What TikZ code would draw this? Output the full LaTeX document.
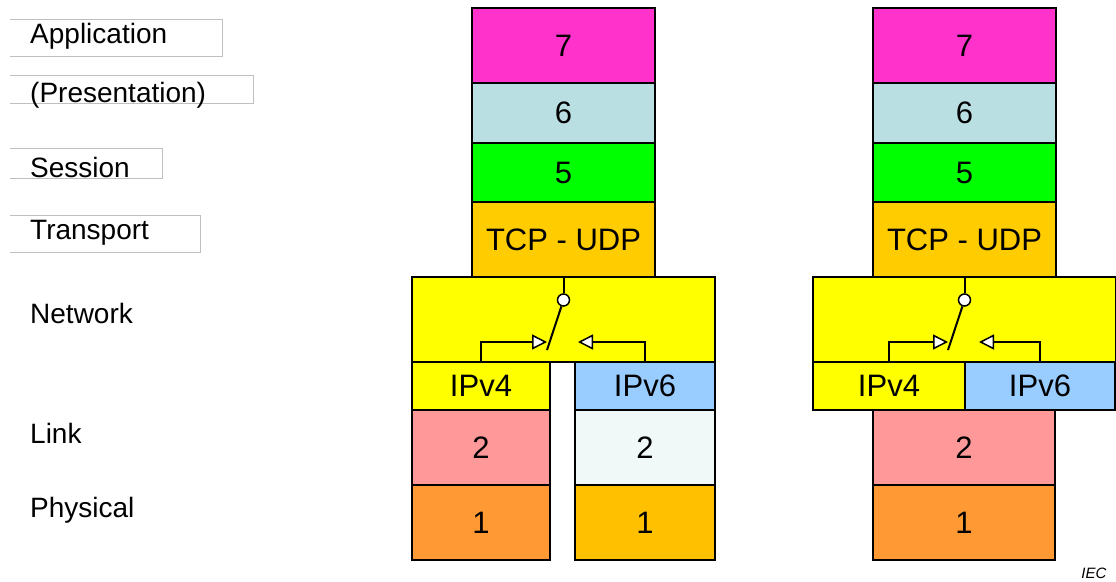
\documentclass[tikz,border=0pt]{standalone}
\usepackage{fontspec}
\setmainfont{Liberation Sans}
\usetikzlibrary{arrows.meta}

\definecolor{appl}{HTML}{FF33CC}
\definecolor{pres}{HTML}{BADFE3}
\definecolor{sess}{HTML}{00FF00}
\definecolor{trsp}{HTML}{FFCC00}
\definecolor{netw}{HTML}{FFFF00}
\definecolor{vsix}{HTML}{99CCFF}
\definecolor{linka}{HTML}{FF9999}
\definecolor{linkb}{HTML}{F0F8F8}
\definecolor{phya}{HTML}{FF9933}
\definecolor{phyb}{HTML}{FFC000}

\tikzset{
  layer/.style={draw, line width=2pt, inner sep=0pt, outer sep=0pt, anchor=north west,
    font=\fontsize{31}{33}\selectfont},
  lname/.style={anchor=base west, inner sep=0pt, font=\fontsize{28}{30}\selectfont},
  lframe/.style={draw=black!25, line width=1pt},
  wire/.style={line width=2pt},
  pivot/.style={circle, draw, fill=white, line width=1.5pt, minimum size=12pt, inner sep=0pt},
  feed/.style={wire, -{Triangle[fill=white, length=15pt, width=15pt, line width=1.5pt]}}
}

\begin{document}
\begin{tikzpicture}[x=1pt,y=-1pt]
\useasboundingbox (0,0) rectangle (1116,581);

% layer names
\draw[lframe] (10,19) -| (222,56) -- (10,56);
\draw[lframe] (10,75) -| (253,103) -- (10,103);
\draw[lframe] (10,148) -| (162,178) -- (10,178);
\draw[lframe] (10,215) -| (200,252) -- (10,252);
\node[lname] (napp) at (30,43) {Application};
\node[lname] (npres) at (30,102) {(Presentation)};
\node[lname] (nsess) at (30,177) {Session};
\node[lname] (ntrsp) at (30,239) {Transport};
\node[lname] (nnetw) at (30,323) {Network};
\node[lname] (nlink) at (30,443) {Link};
\node[lname] (nphys) at (30,517) {Physical};

% upper layers and the network box, same for both stacks
\foreach \dx/\s in {0/a,401/b} {
  \node[layer, fill=appl, minimum width=183pt, minimum height=75pt] (\s7) at (472+\dx,8) {7};
  \node[layer, fill=pres, minimum width=183pt, minimum height=60pt] (\s6) at (472+\dx,83) {6};
  \node[layer, fill=sess, minimum width=183pt, minimum height=59pt] (\s5) at (472+\dx,143) {5};
  \node[layer, fill=trsp, minimum width=183pt, minimum height=75pt] (\s t) at (472+\dx,202) {TCP - UDP};
  \node[layer, fill=netw, minimum width=303pt, minimum height=85pt] (\s n) at (412+\dx,277) {};
}

% dual stack with two links
\node[layer, fill=netw, minimum width=138pt, minimum height=48pt] (a4) at (412,362) {IPv4};
\node[layer, fill=vsix, minimum width=140pt, minimum height=48pt] (a6) at (575,362) {IPv6};
\node[layer, fill=linka, minimum width=138pt, minimum height=75pt] (a2) at (412,410) {2};
\node[layer, fill=linkb, minimum width=140pt, minimum height=75pt] (a2x) at (575,410) {2};
\node[layer, fill=phya, minimum width=138pt, minimum height=75pt] (a1) at (412,485) {1};
\node[layer, fill=phyb, minimum width=140pt, minimum height=75pt] (a1x) at (575,485) {1};

% dual stack on one link
\node[layer, fill=netw, minimum width=152pt, minimum height=48pt] (b4) at (813,362) {IPv4};
\node[layer, fill=vsix, minimum width=150pt, minimum height=48pt] (b6) at (965,362) {IPv6};
\node[layer, fill=linka, minimum width=182pt, minimum height=75pt] (b2) at (873,410) {2};
\node[layer, fill=phya, minimum width=182pt, minimum height=75pt] (b1) at (873,485) {1};

% switch between IPv4 and IPv6
\foreach \dx/\s in {0/a,401/b} {
  \node[pivot] (\s p) at ([yshift=-23pt]\s t.south) {};
  \coordinate (\s k) at (547+\dx,350);
  \coordinate (\s l) at (547+\dx,342);
  \coordinate (\s r) at (578+\dx,342);
  \draw[wire] (\s t.south) -- (\s p);
  \draw[wire] (\s p) -- (\s k);
  \draw[feed] (\s4.north) |- (\s l);
  \draw[feed] (\s6.north) |- (\s r);
}

\node[anchor=base east, font=\fontsize{15}{17}\selectfont\itshape] (iec) at (1110,578) {IEC};
\end{tikzpicture}
\end{document}
